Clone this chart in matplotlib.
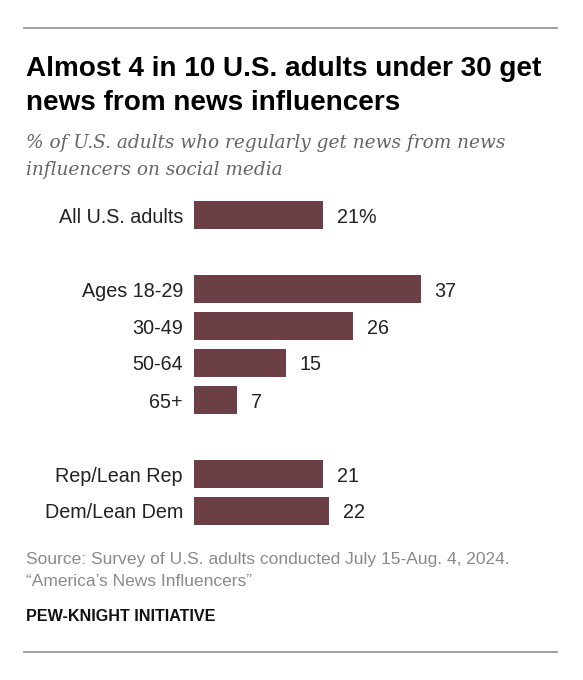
import matplotlib.pyplot as plt
from matplotlib.lines import Line2D

# data
categories = ["All U.S. adults", "Ages 18-29", "30-49", "50-64", "65+",
              "Rep/Lean Rep", "Dem/Lean Dem"]
values = [21, 37, 26, 15, 7, 21, 22]
value_labels = ["21%", "37", "26", "15", "7", "21", "22"]
slots = [0, 2, 3, 4, 5, 7, 8]  # blank rows between groups

bar_color = "#6c3f47"
sans = ["Liberation Sans", "DejaVu Sans"]
serif = ["DejaVu Serif"]

W, H = 583, 680
fig = plt.figure(figsize=(W / 100, H / 100), dpi=100)


def fx(px):
    return px / W


def fy(py):
    return 1 - py / H


# top and bottom rules
for y in (28, 652):
    fig.add_artist(Line2D([fx(24), fx(557)], [fy(y), fy(y)], color="#9a9a9a",
                          lw=1.3, transform=fig.transFigure))

fig.text(fx(26), fy(76), "Almost 4 in 10 U.S. adults under 30 get",
         family=sans, weight="bold", fontsize=20.1, color="#000000")
fig.text(fx(26), fy(110), "news from news influencers",
         family=sans, weight="bold", fontsize=20.1, color="#000000")

fig.text(fx(26), fy(148), "% of U.S. adults who regularly get news from news",
         family=serif, style="italic", fontsize=13.3, color="#666666")
fig.text(fx(26), fy(175), "influencers on social media",
         family=serif, style="italic", fontsize=13.3, color="#666666")

# bar axes: 37 px per row, 6.13 px per percentage point
row = 37
top = 215 - row / 2
ax_w = 340
ax = fig.add_axes([fx(194), fy(top + 9 * row), fx(ax_w), 9 * row / H])
ax.barh(slots, values, height=0.73, color=bar_color)
ax.set_ylim(8.5, -0.5)
ax.set_xlim(0, ax_w / 6.13)
ax.set_yticks(slots)
ax.set_yticklabels(categories, family=sans, fontsize=14.2, color="#222222")
ax.tick_params(axis="y", length=0, pad=8)
ax.set_xticks([])
for s in ax.spines.values():
    s.set_visible(False)

for s, v, lab in zip(slots, values, value_labels):
    ax.annotate(lab, (v, s), xytext=(10, 0), textcoords="offset points",
                va="center_baseline", ha="left", family=sans, fontsize=14.2,
                color="#222222")

fig.text(fx(26), fy(564),
         "Source: Survey of U.S. adults conducted July 15-Aug. 4, 2024.",
         family=sans, fontsize=12.5, color="#8a8a8a")
fig.text(fx(26), fy(586), "\u201cAmerica\u2019s News Influencers\u201d",
         family=sans, fontsize=12.5, color="#8a8a8a")
fig.text(fx(26), fy(621), "PEW-KNIGHT INITIATIVE",
         family=sans, weight="bold", fontsize=11.6, color="#111111")

fig.savefig("out.png", dpi=100)
